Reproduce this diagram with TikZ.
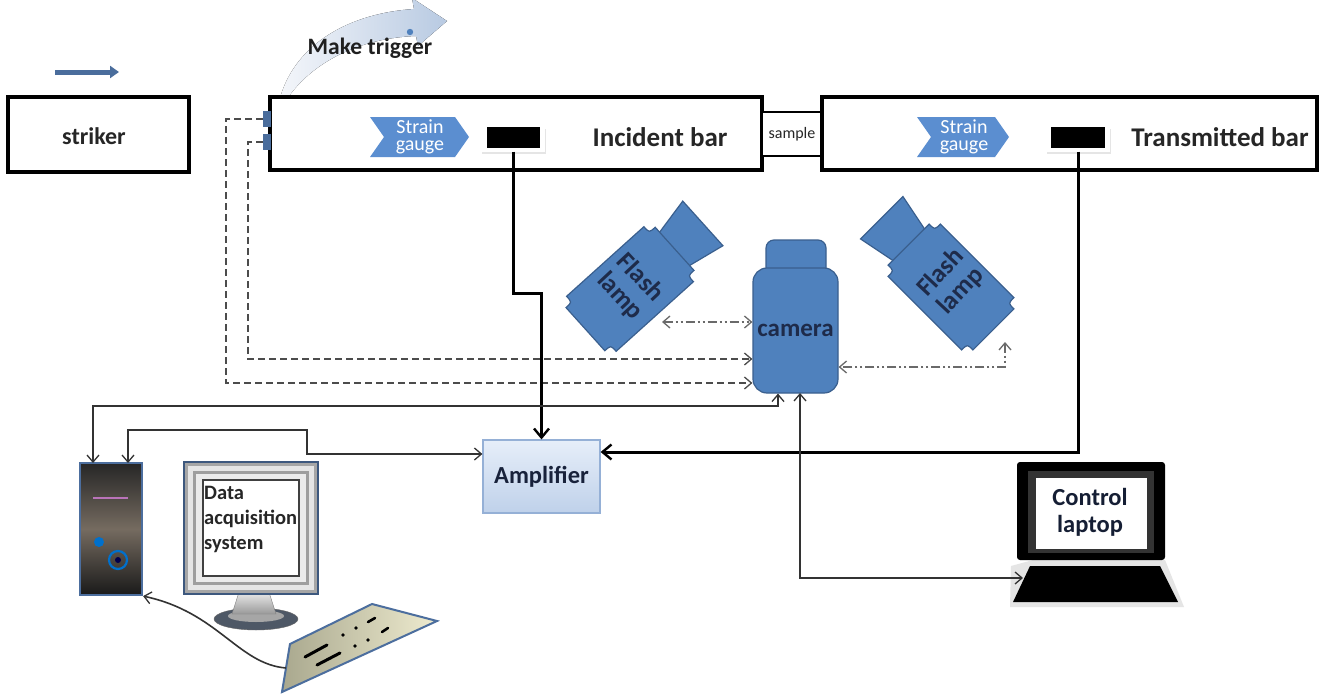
\documentclass[tikz,border=0pt]{standalone}
\usepackage{fontspec}
\setmainfont{Carlito}
\usetikzlibrary{arrows.meta,calc}

\definecolor{shapeblue}{HTML}{4F81BD}
\definecolor{shapeedge}{HTML}{3A5F8E}
\definecolor{gaugeblue}{HTML}{5B8ED0}
\definecolor{navy}{HTML}{1E2B4A}
\definecolor{tabblue}{HTML}{4A6D9C}
\definecolor{ampedge}{HTML}{95B0D6}
\definecolor{amptop}{HTML}{E6EEF9}
\definecolor{ampbot}{HTML}{BFD1EA}
\definecolor{trigdark}{HTML}{B8CAE2}
\definecolor{triglight}{HTML}{F4F6FA}
\definecolor{linkgray}{HTML}{6A6A6A}
\definecolor{towermid}{HTML}{756B60}
\definecolor{toweredge}{HTML}{4C6E9E}
\definecolor{kbdlight}{HTML}{EEEBCF}
\definecolor{kbddark}{HTML}{A9A88E}
\definecolor{standbase}{HTML}{4E5866}

\newcommand\lampbody{%
  \path[fill=shapeblue, draw=shapeedge, line width=1.2pt]
    (58,-22) -- (98,-30) -- (98,30) -- (58,22) -- cycle;
  \path[fill=shapeblue, draw=shapeedge, line width=1.2pt]
    (-52,-37) -- (52,-37) .. controls (52,-29) .. (60,-29) -- (60,29)
    .. controls (52,29) .. (52,37) -- (-52,37) .. controls (-52,29) .. (-60,29)
    -- (-60,-29) .. controls (-52,-29) .. (-52,-37) -- cycle;}

\begin{document}
\begin{tikzpicture}[x=1pt,y=-1pt,
  barbox/.style={draw=black, line width=3.4pt, fill=white, inner sep=0pt},
  bartext/.style={font=\bfseries\fontsize{27}{29}\selectfont, text=black!85},
  gaugetext/.style={font=\fontsize{20}{17}\selectfont, text=white, align=center},
  lamptext/.style={font=\bfseries\fontsize{26}{27}\selectfont, text=navy, align=center},
  camerabody/.style={fill=shapeblue, draw=shapeedge, line width=1.2pt, rounded corners=14pt,
    minimum width=85pt, minimum height=125pt, inner sep=0pt,
    font=\bfseries\fontsize{25}{27}\selectfont, text=navy},
  ampbox/.style={draw=ampedge, line width=1.2pt, top color=amptop, bottom color=ampbot,
    minimum width=117pt, minimum height=73pt, inner sep=0pt,
    font=\bfseries\fontsize{24.5}{26}\selectfont, text=navy!80!black},
  gaugebox/.style={fill=white, minimum width=64pt, minimum height=27pt, inner sep=0pt},
  signal/.style={line width=3pt, -{Straight Barb[length=9pt,width=15pt,line width=2.4pt]}},
  thinlink/.style={line width=1.6pt, draw=black!80},
  barb/.tip={Straight Barb[length=7pt,width=12pt,line width=1.3pt]},
  dashedlink/.style={line width=1.8pt, draw=black!70, dash pattern=on 7pt off 4pt},
  flashlink/.style={line width=1.8pt, draw=linkgray, dash pattern=on 9pt off 3pt on 2pt off 3pt on 2pt off 3pt},
]
\useasboundingbox (0,0) rectangle (1321,693);
\fill[white] (0,0) rectangle (1321,693);

% ---------- pressure bar line ----------
\draw[line width=5pt, draw=tabblue, -{Triangle[length=9pt,width=12pt]}] (55,72) -- (119,72);
\node[barbox, minimum width=181pt, minimum height=75pt] (striker) at (98.5,134.5) {};
\node[bartext, font=\bfseries\fontsize{24}{26}\selectfont] at (94,136) {striker};

% trigger band
\fill[left color=triglight, right color=trigdark]
  (280,98) .. controls (296,42) and (352,13) .. (414,9) -- (412,-2) -- (447,21) -- (418,46)
  -- (416,36) .. controls (360,38) and (312,62) .. (287,99) -- cycle;

\node[barbox, minimum width=492pt, minimum height=73pt] (incident) at (516,133.5) {};
\node[barbox, minimum width=60pt, minimum height=44pt, line width=2.6pt] (sample) at (792,134) {};
\node[barbox, minimum width=495pt, minimum height=73pt] (transmitted) at (1069.5,133.5) {};
\node[font=\fontsize{16}{18}\selectfont, text=black!85, inner sep=0pt] at (sample.center) {sample};

\node[bartext] (inclabel) at (660,137) {Incident bar};
\node[bartext] (translabel) at (1220,137) {Transmitted bar};

\node[font=\bfseries\fontsize{23.5}{26}\selectfont, text=black!88] (trigger) at (370,48) {Make trigger};
\fill[shapeblue] (410,32) circle (3.2pt);

% trigger contact tabs
\fill[tabblue] (263,111) rectangle (271,127);
\fill[tabblue] (263,134) rectangle (271,150);
\coordinate (tabA) at (263,119);
\coordinate (tabB) at (263,142);

% strain gauge markers
\fill[gaugeblue] (370,117) -- (455,117) -- (469,137) -- (455,157) -- (370,157) -- (384,137) -- cycle;
\node[gaugetext] (sgI) at (420,137) {Strain\\gauge};
\fill[gaugeblue] (917,117) -- (995,117) -- (1009,137) -- (995,157) -- (917,157) -- (931,137) -- cycle;
\node[gaugetext] (sgT) at (964,137) {Strain\\gauge};

\fill[black!10] (482,129) rectangle (546,154);
\node[gaugebox] (gaugeI) at (513,138) {};
\fill[black] (487,127) rectangle (540,148);
\fill[black!10] (1047,129) rectangle (1111,154);
\node[gaugebox] (gaugeT) at (1078,138) {};
\fill[black] (1051,127) rectangle (1105,148);

% ---------- flash lamps ----------
\begin{scope}[shift={(630,289)}, rotate=42]
  \lampbody
\end{scope}
\node[lamptext, rotate=-47] (lamp1) at (630,287) {Flash\\lamp};
\begin{scope}[shift={(951,287)}, rotate=135]
  \lampbody
\end{scope}
\node[lamptext, rotate=47] (lamp2) at (951,282) {Flash\\lamp};

% ---------- camera ----------
\path[fill=shapeblue, draw=shapeedge, line width=1.2pt, rounded corners=8pt] (766,240) rectangle (826,280);
\node[camerabody] (camera) at (795.5,330.5) {camera};

% ---------- amplifier ----------
\node[ampbox] (amp) at (541.5,476.5) {Amplifier};

% ---------- acquisition PC ----------
\node[draw=toweredge, line width=2.2pt, top color=black!85, bottom color=black!90, middle color=towermid,
  minimum width=62pt, minimum height=132pt, inner sep=0pt] (pc) at (111,529) {};
\draw[line width=2.2pt, draw=violet!55!white] (93,498) -- (128,498);
\fill[blue!45!cyan!80!black] (99,542) circle (5pt);
\draw[line width=2.2pt, draw=blue!45!cyan!80!black] (118,560) circle (9pt);
\fill[blue!30!black] (118,560) circle (3pt);

% monitor
\path[fill=standbase, draw=black!60] (256,619) ellipse (42pt and 11pt);
\path[fill=black!35] (256,616) ellipse (28pt and 6pt);
\path[top color=black!8, bottom color=black!40, draw=black!50] (239,592) -- (269,592) -- (276,614) -- (232,614) -- cycle;
\path[fill=black!35, draw=toweredge!80!black, line width=1.4pt] (184,462) rectangle (318,594);
\path[fill=black!10] (188,466) rectangle (314,590);
\path[fill=black!38] (193,471) rectangle (309,585);
\path[fill=black!8] (196,474) rectangle (306,582);
\path[fill=white, draw=black!75, line width=1.2pt] (203,480) rectangle (299,576);
\node[font=\bfseries\fontsize{20.5}{25}\selectfont, text=black!85, align=left, anchor=north west, inner sep=0pt] (daq) at (204,486)
  {Data\\acquisition\\system};

% keyboard
\path[left color=kbddark, right color=kbdlight, draw=toweredge, line width=2pt]
  (290,644) -- (372,604) -- (437,621) -- (282,692) -- cycle;
\coordinate (kbd) at (286,668);
\draw[line width=3pt, line cap=round] (305,657) -- (327,645);
\draw[line width=3pt, line cap=round] (317,665) -- (340,653);
\draw[line width=2.6pt, line cap=round] (368,622) -- (375,618);
\draw[line width=2.6pt, line cap=round] (382,632) -- (388,628);
\foreach \p in {(343,635),(356,628),(355,646),(368,640)} \fill \p circle (1.8pt);

% ---------- control laptop ----------
\fill[black!10] (1011,566) -- (1033,560) -- (1165,560) -- (1184,607) -- (1010,607) -- cycle;
\path[fill=black, rounded corners=3pt] (1017,462) rectangle (1165,560);
\path[fill=black!80] (1028,471) rectangle (1154,553);
\path[fill=white] (1036,478) rectangle (1147,549);
\node[font=\bfseries\fontsize{24.5}{27}\selectfont, text=navy!70!black, align=center] (laptop) at (1090,512) {Control\\laptop};
\fill[black] (1030,566) -- (1160,566) -- (1178,602) -- (1013,602) -- cycle;

% ---------- connections ----------
% trigger lines to the camera
\coordinate (dashA) at (226,383);
\coordinate (dashB) at (248,359);
\draw[dashedlink, -{barb}] (tabA) -| (dashA) -- (camera.west |- dashA);
\draw[dashedlink, -{barb}] (tabB) -| (dashB) -- (camera.west |- dashB);

% flash sync lines
\coordinate (lamp1port) at (662,322);
\draw[flashlink, {barb}-{barb}] (lamp1port) -- (camera.west |- lamp1port);
\coordinate (lamp2port) at (1005,342);
\coordinate (lamp2bend) at (1005,367);
\draw[flashlink, {barb}-{barb}] (lamp2port) -- (lamp2bend) -- (camera.east |- lamp2bend);

% strain gauge signals to the amplifier
\coordinate (jog) at (541.5,293);
\draw[signal] (gaugeI.south) |- (jog) -- (amp.north);
\coordinate (ampRref) at (0,452);
\coordinate (ampR) at (amp.east |- ampRref);
\draw[signal] (gaugeT.south) |- (ampR);

% PC links
\coordinate (pcA) at (93,463);
\coordinate (pcB) at (128,463);
\coordinate (camL) at (778,406);
\draw[thinlink, {barb}-{barb}] (pcA) |- (camL) -- (camL |- camera.south);
\coordinate (kinkB) at (307,430);
\coordinate (ampLref) at (0,454);
\coordinate (ampL) at (amp.west |- ampLref);
\draw[thinlink, {barb}-{barb}] (pcB) |- (kinkB) |- (ampL);

% camera to laptop
\coordinate (camB) at (800,393);
\coordinate (lapB) at (1023,578);
\draw[thinlink, {barb}-{barb}] (camB) |- (lapB);

% keyboard cable
\draw[thinlink, -{barb}] (kbd) .. controls (238,664) and (218,612) .. (pc.south east);
\end{tikzpicture}
\end{document}
